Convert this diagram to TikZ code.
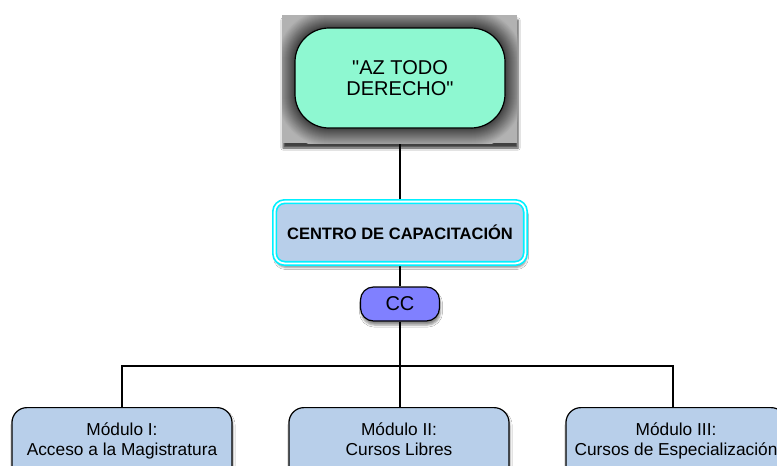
\documentclass[tikz,border=0pt]{standalone}
\usepackage{fontspec}
\setmainfont{Liberation Sans}
\usetikzlibrary{shadows.blur}
\pgfdeclarelayer{bg}
\pgfsetlayers{bg,main}
\definecolor{teal0}{RGB}{142,248,209}
\definecolor{lblue}{RGB}{184,207,234}
\definecolor{ccfill}{RGB}{128,128,255}
\definecolor{cyanb}{RGB}{0,240,255}
\begin{document}
\begin{tikzpicture}[x=1pt,y=-1pt, line join=round,
  conn/.style={draw=black, line width=1.1pt},
  topbox/.style={draw=black, line width=1.2pt, fill=teal0, rounded corners=34pt,
    minimum width=210pt, minimum height=100pt, inner sep=0pt, align=center,
    font=\fontsize{20}{21}\selectfont},
  centrobox/.style={draw=cyanb, double=white, line width=1.7pt, double distance=1.8pt,
    fill=lblue, rounded corners=10pt, minimum width=250.8pt, minimum height=61.8pt,
    inner sep=0pt, font=\bfseries\fontsize{16.5}{18}\selectfont,
    blur shadow={shadow xshift=1pt, shadow yshift=-4pt, shadow opacity=45}},
  ccbox/.style={draw=black, line width=1.2pt, fill=ccfill, rounded corners=13pt,
    minimum width=79pt, minimum height=34pt, inner sep=0pt,
    font=\fontsize{20}{22}\selectfont,
    blur shadow={shadow xshift=1pt, shadow yshift=-4pt, shadow opacity=45}},
  modbox/.style={draw=black, line width=1.2pt, fill=lblue, rounded corners=15pt,
    minimum width=220pt, minimum height=100pt, inner sep=0pt, anchor=north,
    blur shadow={shadow xshift=1pt, shadow yshift=-3pt, shadow opacity=40}},
  modtext/.style={anchor=north, inner sep=0pt, align=center,
    font=\fontsize{17.3}{20}\selectfont}
]
\useasboundingbox (0,0) rectangle (777,466);
\clip (0,0) rectangle (777,466);

% gray glow square behind the top box
\fill[black!30, blur shadow={shadow xshift=1pt, shadow yshift=-5pt, shadow opacity=75}] (282,15) rectangle (517,143);
\begin{scope}
  \clip (282,15) rectangle (517,143);
  \foreach \e in {20,19,...,0} {
    \pgfmathsetmacro{\pk}{max(30,76-2.4*\e)}
    \fill[black!\pk, rounded corners={34pt+\e pt}]
      ({295-\e},{28-\e}) rectangle ({505+\e},{128+\e});
  }
\end{scope}

\node[topbox] (top) at (400,78) {\textquotedbl AZ TODO\\DERECHO\textquotedbl};
\node[centrobox] (centro) at (400,232.5) {CENTRO DE CAPACITACIÓN};
\node[ccbox] (cc) at (400,304) {CC};

\node[modbox] (m1) at (122,407) {};
\node[modbox] (m2) at (399,407) {};
\node[modbox] (m3) at (676,407) {};
\node[modtext] (t1) at ([yshift=-15.2pt]m1.north) {Módulo I:\\Acceso a la Magistratura};
\node[modtext] (t2) at ([yshift=-15.2pt]m2.north) {Módulo II:\\Cursos Libres};
\node[modtext] (t3) at ([yshift=-15.2pt]m3.north) {Módulo III:\\Cursos de Especialización};

\coordinate (bar) at (400,366);
\begin{pgfonlayer}{bg}
  \fill[white] (0,0) rectangle (777,466);
  \draw[conn] (top.south) -- (centro.north);
  \draw[conn] (centro.south) -- (cc.north);
  \draw[conn] (cc.south) -- (bar);
  \draw[conn] (m1.north) -- (m1.north |- bar) -- ([xshift=-3pt]m3.north |- bar) -- ([xshift=-3pt]m3.north);
  \draw[conn] (bar) -- (bar |- m2.north);
\end{pgfonlayer}
\end{tikzpicture}
\end{document}
